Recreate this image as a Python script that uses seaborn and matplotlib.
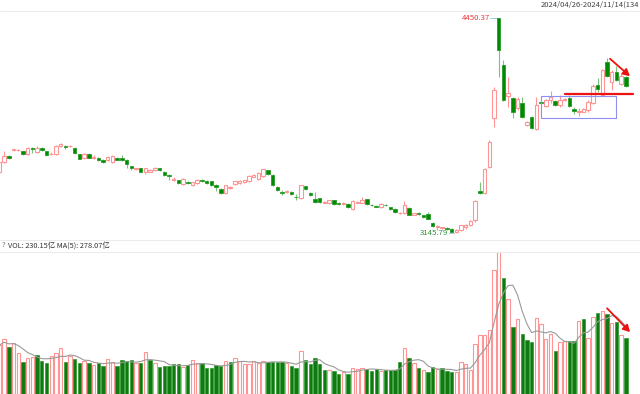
import numpy as np
import pandas as pd
import matplotlib
matplotlib.use('Agg')
import matplotlib.pyplot as plt
import seaborn as sns
from matplotlib.lines import Line2D
from matplotlib.patches import Rectangle, FancyArrowPatch

sns.set_theme(style='white')
plt.rcParams['font.family'] = ['Noto Sans CJK SC', 'DejaVu Sans']

# ---------------- data ----------------
header_text = '2024/04/26-2024/11/14(134'
vol_label = 'VOL: 230.15亿 MA(5): 278.07亿'

opens = [3518, 3575, 3613, 3649, 3648, 3643, 3623, 3660, 3639, 3660,
         3643, 3625, 3627, 3676, 3676, 3672, 3663, 3623, 3599, 3627,
         3602, 3603, 3591, 3587, 3578, 3599, 3599, 3591, 3550, 3534,
         3538, 3518, 3518, 3530, 3538, 3516, 3496, 3467, 3467, 3443,
         3455, 3439, 3451, 3467, 3463, 3460, 3439, 3411, 3387, 3419,
         3443, 3451, 3455, 3460, 3487, 3475, 3492, 3528, 3500, 3423,
         3395, 3395, 3395, 3366, 3358, 3431, 3387, 3354, 3358, 3330,
         3325, 3346, 3326, 3322, 3322, 3293, 3330, 3330, 3350, 3318,
         3310, 3302, 3318, 3302, 3293, 3265, 3265, 3297, 3257, 3265,
         3253, 3261, 3208, 3180, 3176, 3176, 3172, 3152, 3164, 3184,
         3196, 3225, 3401, 3388, 3546, 3844, 4449, 4165, 3977, 3965,
         3904, 3936, 3801, 3851, 3775, 3939, 3916, 3953, 3949, 3922,
         3953, 3965, 3901, 3883, 3883, 3892, 3935, 4044, 3983, 4185,
         4064, 4125, 4050, 4094]
closes = [3575, 3615, 3599, 3654, 3651, 3623, 3660, 3655, 3660, 3649,
          3619, 3628, 3672, 3684, 3668, 3676, 3631, 3595, 3627, 3603,
          3607, 3587, 3575, 3607, 3613, 3591, 3587, 3566, 3538, 3538,
          3518, 3538, 3530, 3542, 3526, 3496, 3492, 3471, 3447, 3471,
          3451, 3455, 3467, 3463, 3451, 3439, 3423, 3390, 3435, 3427,
          3460, 3463, 3467, 3492, 3496, 3512, 3532, 3504, 3435, 3407,
          3390, 3399, 3382, 3362, 3435, 3411, 3378, 3334, 3334, 3334,
          3343, 3322, 3322, 3326, 3302, 3338, 3334, 3346, 3322, 3314,
          3305, 3322, 3314, 3290, 3273, 3269, 3314, 3257, 3265, 3261,
          3241, 3233, 3188, 3188, 3180, 3172, 3152, 3164, 3192, 3192,
          3217, 3342, 3388, 3534, 3698, 4014, 4256, 3953, 3997, 3882,
          3959, 3848, 3821, 3781, 3922, 3933, 3953, 3969, 3922, 3953,
          3957, 3916, 3889, 3889, 3898, 3941, 4038, 4017, 4135, 4098,
          4125, 4074, 4098, 4038]
highs = [3589, 3643, 3619, 3658, 3655, 3646, 3665, 3668, 3674, 3665,
         3646, 3637, 3677, 3692, 3680, 3680, 3668, 3628, 3631, 3631,
         3619, 3607, 3595, 3613, 3619, 3604, 3619, 3595, 3555, 3543,
         3543, 3543, 3534, 3546, 3543, 3519, 3501, 3487, 3470, 3477,
         3461, 3458, 3473, 3475, 3467, 3463, 3443, 3416, 3440, 3431,
         3464, 3467, 3470, 3495, 3501, 3516, 3537, 3531, 3504, 3428,
         3407, 3404, 3398, 3382, 3440, 3434, 3395, 3395, 3361, 3337,
         3349, 3349, 3331, 3331, 3325, 3343, 3340, 3362, 3354, 3322,
         3314, 3326, 3322, 3305, 3297, 3273, 3342, 3302, 3269, 3273,
         3257, 3275, 3213, 3196, 3185, 3182, 3176, 3170, 3197, 3200,
         3222, 3349, 3455, 3540, 3710, 4032, 4450.37, 4196, 4094, 3971,
         3969, 3973, 3828, 3856, 3969, 3944, 3959, 4006, 3953, 3983,
         3962, 3983, 3910, 3902, 3904, 3953, 4050, 4086, 4141, 4206,
         4135, 4159, 4115, 4098]
lows = [3504, 3571, 3595, 3643, 3643, 3619, 3619, 3631, 3631, 3643,
        3616, 3619, 3622, 3668, 3655, 3665, 3625, 3592, 3595, 3598,
        3595, 3583, 3571, 3583, 3573, 3586, 3583, 3540, 3531, 3531,
        3513, 3504, 3513, 3525, 3522, 3492, 3467, 3463, 3443, 3437,
        3446, 3434, 3446, 3455, 3446, 3434, 3401, 3385, 3382, 3413,
        3437, 3446, 3451, 3455, 3483, 3470, 3486, 3498, 3431, 3401,
        3378, 3390, 3378, 3346, 3352, 3407, 3373, 3330, 3328, 3325,
        3320, 3318, 3318, 3318, 3297, 3288, 3325, 3325, 3318, 3310,
        3302, 3297, 3310, 3285, 3269, 3261, 3261, 3253, 3253, 3253,
        3237, 3229, 3184, 3164, 3170, 3167, 3149, 3145.79, 3158, 3172,
        3191, 3213, 3382, 3382, 3540, 3789, 4094, 3947, 3912, 3844,
        3892, 3844, 3795, 3774, 3771, 3929, 3910, 3933, 3918, 3912,
        3947, 3912, 3868, 3856, 3877, 3880, 3929, 4001, 3977, 4092,
        4014, 4068, 4044, 4032]
volumes = [202, 227, 194, 211, 169, 133, 150, 153, 161, 136,
           128, 158, 169, 189, 133, 158, 145, 128, 136, 128,
           120, 128, 117, 145, 133, 114, 142, 136, 139, 128,
           128, 175, 142, 128, 112, 114, 114, 123, 123, 112,
           120, 139, 128, 127, 109, 109, 120, 117, 136, 131,
           150, 136, 123, 123, 136, 128, 136, 133, 133, 131,
           133, 128, 114, 109, 178, 139, 123, 147, 123, 100,
           98, 95, 84, 90, 84, 109, 103, 109, 103, 95,
           103, 95, 98, 98, 98, 133, 191, 150, 128, 109,
           100, 92, 112, 103, 106, 95, 92, 90, 131, 123,
           100, 205, 244, 244, 266, 512, 588, 482, 395, 277,
           309, 247, 222, 214, 313, 290, 227, 249, 178, 214,
           219, 219, 219, 301, 309, 233, 318, 337, 343, 332,
           293, 299, 244, 230.15]
vol_dir = ("rrgrrgrrgg" "grrrgrggrg" "rggrrggggr" "grgrgggggr" "grrgggggrg"
           "rrrrrrrggg" "grggrggggg" "rggrgrrrgg" "grggggrgrg" "rggrgggrrr"
           "rrrrrrrgrg" "rgggrrrrgr" "rggrgrrgrg" "rgrg")

# hand-drawn annotations (data coordinates)
red_hline = dict(x=[120.1, 134.5], y=3987)
red_arrow_price = dict(start=(129.2, 4214), end=(134.3, 4086))
blue_box = dict(x0=114.9, x1=130.9, y0=3842, y1=3979)
red_arrow_vol = dict(start=(128.6, 363), end=(134.3, 248))

# ---------------- styles ----------------
PINK = '#ff9494'
GREEN = '#008a00'
GREEN_EDGE = '#2a9a2a'
GREEN_WICK = '#7cc47c'
GRID = '#ebebeb'

df = pd.DataFrame(dict(i=np.arange(len(opens)), open=opens, close=closes,
                       high=highs, low=lows, vol=volumes, vdir=list(vol_dir)))
df['ma5'] = df['vol'].rolling(5, min_periods=1).mean()
up = df['close'] >= df['open']
body_bot = np.minimum(df['open'], df['close'])
body_h = (df['close'] - df['open']).abs()

H = 394.0
fig = plt.figure(figsize=(6.4, 3.94), dpi=100)
fig.patch.set_facecolor('white')
axp = fig.add_axes([0, (H - 237) / H, 1, 225 / H])
axv = fig.add_axes([0, 0, 1, 143 / H])
for ax in (axp, axv):
    ax.set_facecolor('none')

# ---- price candles ----
axp.vlines(df.i[up], df.low[up], df.high[up], color=PINK, lw=0.8, zorder=2)
axp.vlines(df.i[~up], df.low[~up], df.high[~up], color=GREEN_WICK, lw=0.8, zorder=2)
axp.bar(df.i[up], body_h[up], bottom=body_bot[up], width=0.74,
        facecolor='white', edgecolor=PINK, linewidth=0.8, zorder=3)
axp.bar(df.i[~up], body_h[~up], bottom=body_bot[~up], width=0.74,
        facecolor=GREEN, edgecolor=GREEN_EDGE, linewidth=0.6, zorder=3)

imax = int(df['high'].idxmax())
imin = int(df['low'].idxmin())
hi = df['high'].max()
lo = df['low'].min()
axp.text(imax - 1.9, hi, f'{hi:.2f}', ha='right', va='center',
         color='#e8393c', fontsize=5.6)
axp.plot([imax - 1.8, imax - 0.45], [hi, hi], color='#9ccbd8', lw=0.7)
axp.text(imin - 1.7, lo, f'{lo:.2f}', ha='right', va='center',
         color='#2f8f3a', fontsize=5.6)
axp.plot([imin - 1.6, imin - 0.45], [lo, lo], color='#9ccbd8', lw=0.7)

axp.add_patch(Rectangle((blue_box['x0'], blue_box['y0']),
                        blue_box['x1'] - blue_box['x0'], blue_box['y1'] - blue_box['y0'],
                        fill=False, edgecolor='#8f8ff0', lw=0.8, zorder=4))
axp.plot(red_hline['x'], [red_hline['y']] * 2, color='#ee1111', lw=1.6, zorder=5)
axp.add_patch(FancyArrowPatch(red_arrow_price['start'], red_arrow_price['end'],
                              arrowstyle='-|>,head_length=4,head_width=2.2',
                              color='#ee1111', lw=1.3, zorder=5))

axp.set_xlim(0.13, 136.0)
axp.set_ylim(3121.5, 4486.8)
axp.set_axis_off()

# ---- volume ----
sns.barplot(data=df, x='i', y='vol', hue='vdir', palette={'r': 'white', 'g': GREEN},
            native_scale=True, dodge=False, width=0.72, legend=False,
            errorbar=None, linewidth=0.8, ax=axv, zorder=2)
for p in axv.patches:
    fc = p.get_facecolor()
    if fc[0] > 0.9 and fc[1] > 0.9:
        p.set_edgecolor(PINK)
    else:
        p.set_edgecolor(GREEN_EDGE)
        p.set_linewidth(0.5)
sns.lineplot(data=df, x='i', y='ma5', color='#9a9a9a', lw=0.8, ax=axv, zorder=4)
axv.add_patch(FancyArrowPatch(red_arrow_vol['start'], red_arrow_vol['end'],
                              arrowstyle='-|>,head_length=4,head_width=2.2',
                              color='#ee1111', lw=1.3, zorder=5))
axv.set_xlim(0.13, 136.0)
axv.set_ylim(0, 592)
axv.set_axis_off()

# ---- frame lines and header texts ----
for ypx in (10.5, 239.5, 251.5):
    fig.add_artist(Line2D([0, 1], [1 - ypx / H] * 2, transform=fig.transFigure,
                          color=GRID, lw=0.7))
fig.text(639.5 / 640, 1 - 4.5 / H, header_text, ha='right', va='center',
         fontsize=5.5, color='#444444')
fig.text(2 / 640, 1 - 245.5 / H, '?', ha='left', va='center', fontsize=5.5,
         color='#777777')
fig.text(8 / 640, 1 - 245.5 / H, vol_label, ha='left', va='center',
         fontsize=5.3, color='#333333')

fig.savefig('out.png', dpi=100, facecolor='white')
